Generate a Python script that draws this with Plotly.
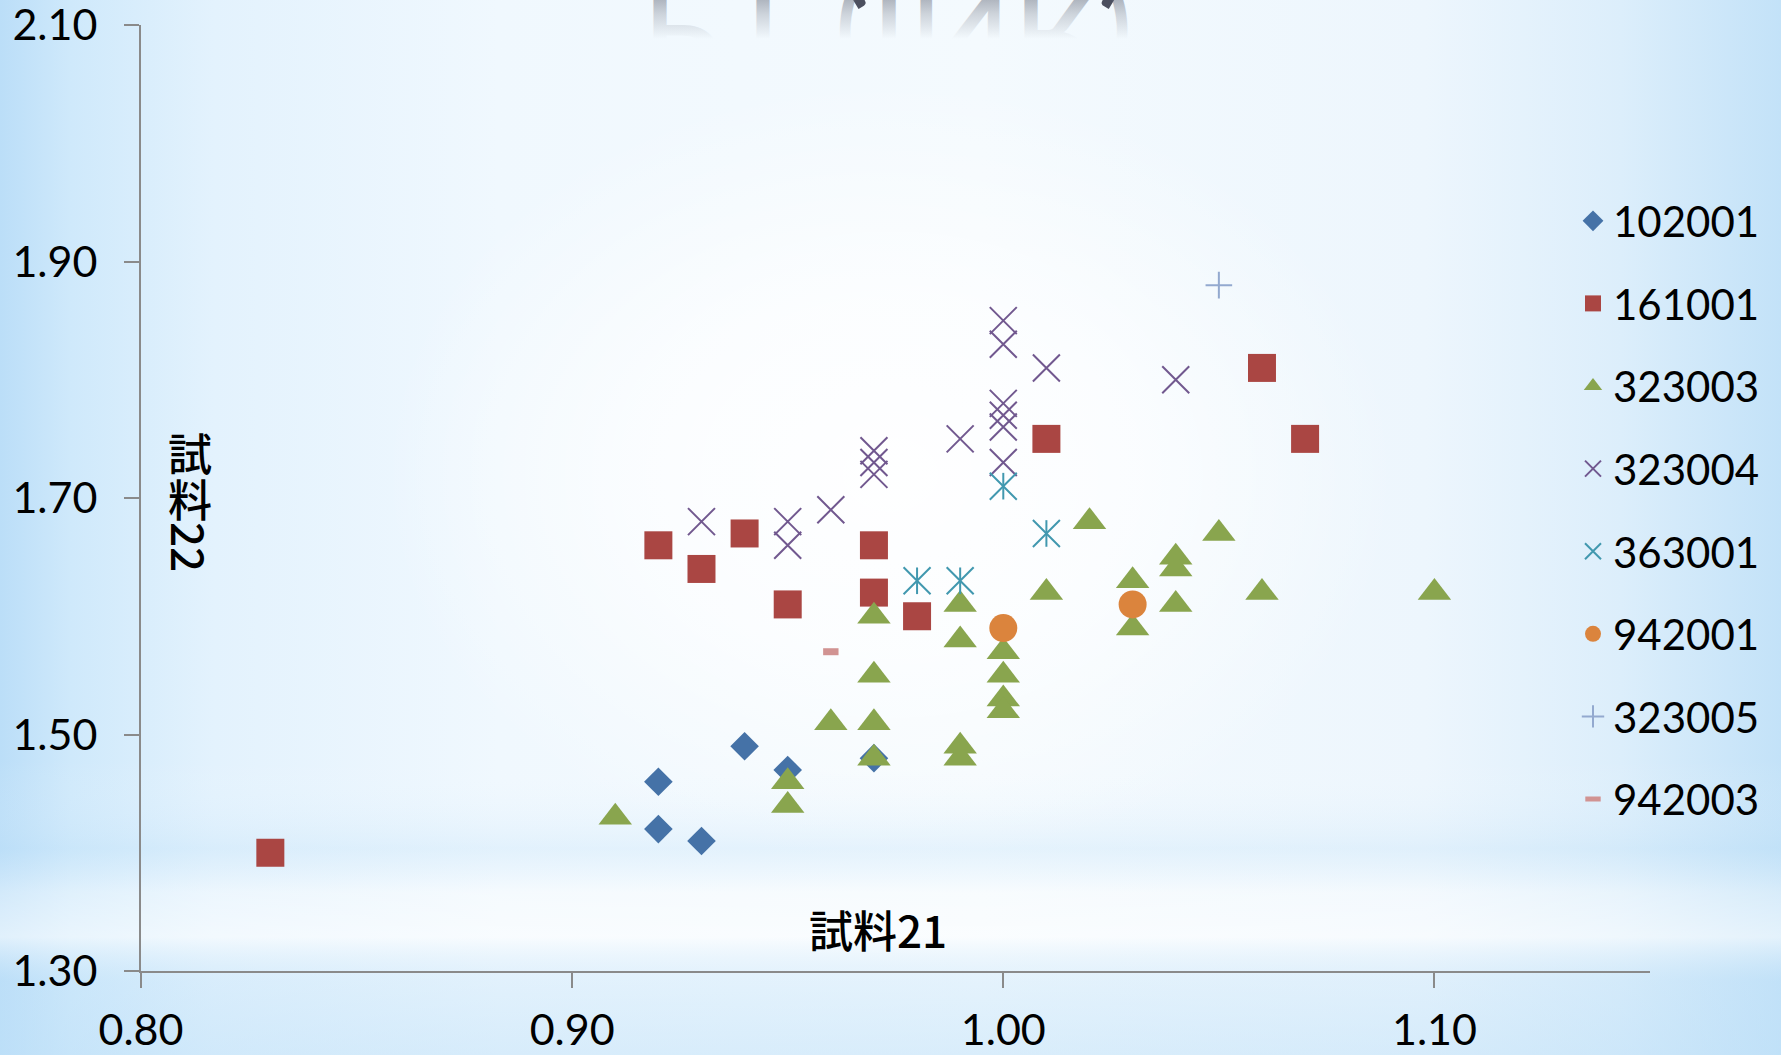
import plotly.graph_objects as go

# ---- data -------------------------------------------------------------
series_names = ["102001", "161001", "323003", "323004", "363001", "942001", "323005", "942003"]

s102001_x = [0.92, 0.92, 0.93, 0.94, 0.95, 0.97]
s102001_y = [1.46, 1.42, 1.41, 1.49, 1.47, 1.48]

s161001_x = [0.83, 0.92, 0.93, 0.94, 0.95, 0.97, 0.97, 0.98, 1.01, 1.06, 1.07]
s161001_y = [1.40, 1.66, 1.64, 1.67, 1.61, 1.66, 1.62, 1.60, 1.75, 1.81, 1.75]

s323003_x = [0.91, 0.95, 0.95, 0.96, 0.97, 0.97, 0.97, 0.97, 0.99, 0.99, 0.99, 0.99, 1.00,
             1.00, 1.00, 1.00, 1.01, 1.02, 1.03, 1.03, 1.04, 1.04, 1.04, 1.05, 1.06, 1.10]
s323003_y = [1.43, 1.46, 1.44, 1.51, 1.60, 1.55, 1.51, 1.48, 1.61, 1.58, 1.49, 1.48, 1.57,
             1.55, 1.53, 1.52, 1.62, 1.68, 1.63, 1.59, 1.65, 1.64, 1.61, 1.67, 1.62, 1.62]

s323004_x = [0.93, 0.95, 0.95, 0.96, 0.97, 0.97, 0.97, 0.99, 1.00, 1.00, 1.00, 1.00, 1.00, 1.00, 1.01, 1.04]
s323004_y = [1.68, 1.68, 1.66, 1.69, 1.74, 1.73, 1.72, 1.75, 1.85, 1.83, 1.78, 1.77, 1.76, 1.73, 1.81, 1.80]

s363001_x = [0.98, 0.99, 1.00, 1.01]
s363001_y = [1.63, 1.63, 1.71, 1.67]

s942001_x = [1.00, 1.03]
s942001_y = [1.59, 1.61]

s323005_x = [1.05]
s323005_y = [1.88]

s942003_x = [0.96]
s942003_y = [1.57]

x_tickvals = [0.80, 0.90, 1.00, 1.10]
x_ticktext = ["0.80", "0.90", "1.00", "1.10"]
y_tickvals = [1.30, 1.50, 1.70, 1.90, 2.10]
y_ticktext = ["1.30", "1.50", "1.70", "1.90", "2.10"]

x_title = "試料21"
y_title_cjk = ["試", "料"]
y_title_num = "22"
chart_title = "PT (INR)"

# ---- page geometry (pixels) -------------------------------------------
W, H = 1781, 1055
PLOT_L, PLOT_R, PLOT_T, PLOT_B = 141, 1650, 25, 971


def px_x(p):
    return p / W


def px_y(p):
    return (H - p) / H


LATIN = "Lato, 'Open Sans', sans-serif"
CJK = "'Noto Sans CJK JP', 'Noto Sans CJK SC', sans-serif"
AXIS_GREY = "#8A8A8A"

fig = go.Figure()

# ---- background washes on a full-page helper axis ---------------------
rect_x = [0, 1, 1, 0, 0]
rect_y = [0, 0, 1, 1, 0]


def wash(xs, ys, grad):
    fig.add_trace(go.Scatter(
        x=xs, y=ys, mode="lines", fill="toself", line=dict(width=0),
        fillgradient=grad, hoverinfo="skip", showlegend=False,
        xaxis="x", yaxis="y"))


wash(rect_x, rect_y, dict(type="horizontal", colorscale=[
    [0.00, "#BBDEF8"], [0.04, "#CFE9FB"], [0.12, "#E3F2FD"], [0.28, "#F0F8FE"],
    [0.55, "#F4FAFE"], [0.80, "#EDF6FD"], [0.91, "#DCEEFB"], [1.00, "#C3E2F8"]]))

# soft white glow in the middle of the page
wash([0.12, 0.88, 0.88, 0.12, 0.12], [0.05, 0.05, 1.05, 1.05, 0.05], dict(type="radial", colorscale=[
    [0.0, "rgba(255,255,255,0.95)"], [0.35, "rgba(255,255,255,0.7)"],
    [0.6, "rgba(255,255,255,0.25)"], [0.75, "rgba(255,255,255,0)"], [1.0, "rgba(255,255,255,0)"]]))

# horizontal light band near the foot of the page
wash(rect_x, [0, 0, 0.28, 0.28, 0], dict(type="vertical", colorscale=[
    [0.00, "rgba(190,224,248,0.5)"], [0.25, "rgba(190,224,248,0.3)"],
    [0.40, "rgba(255,255,255,0.55)"], [0.55, "rgba(255,255,255,0.35)"],
    [0.70, "rgba(190,224,248,0.28)"], [0.85, "rgba(220,238,252,0.12)"],
    [1.00, "rgba(255,255,255,0)"]]))

# ---- data series ------------------------------------------------------
def series(name, xs, ys, symbol, color, size, lw=0, show=True):
    line = dict(width=lw, color=color) if lw else dict(width=0)
    fig.add_trace(go.Scatter(
        x=xs, y=ys, mode="markers", name=name, legendgroup=name, showlegend=show,
        marker=dict(symbol=symbol, color=color, size=size, line=line),
        xaxis="x2", yaxis="y2"))


series("102001", s102001_x, s102001_y, "diamond", "#4572A7", 22)
series("161001", s161001_x, s161001_y, "square", "#AA4643", 28)
series("323003", s323003_x, s323003_y, "triangle-up", "#89A54E", 29)
series("323004", s323004_x, s323004_y, "x-thin-open", "#71588F", 27, lw=2)
series("363001", s363001_x, s363001_y, "x-thin-open", "#4198AF", 27, lw=2)
series("363001", s363001_x, s363001_y, "line-ns-open", "#4198AF", 19, lw=2, show=False)
series("942001", s942001_x, s942001_y, "circle", "#DB843D", 28)
series("323005", s323005_x, s323005_y, "cross-thin-open", "#93A9CF", 19, lw=2)
series("942003", s942003_x, s942003_y, "line-ew-open", "#D19392", 11, lw=7)

# ---- text -------------------------------------------------------------
title_font = dict(family=CJK, size=44, color="#000000", weight=500)


def label(text, x, y, **kw):
    d = dict(text=text, x=px_x(x), y=px_y(y), xref="paper", yref="paper",
             xanchor="center", yanchor="middle", showarrow=False, font=title_font)
    d.update(kw)
    return d


annotations = [
    label(x_title, 878, 929),
    label(y_title_cjk[0], 190, 452),
    label(y_title_cjk[1], 190, 498),
    label(y_title_num, 190, 547, textangle=90),
    # title sitting above the top edge, only its foot shows
    label(chart_title, 887, 20, yanchor="bottom",
          font=dict(family=LATIN, size=136, color="#4B4F5F")),
    # mirrored copy of the title (flipped in the post script)
    label(chart_title, 887, 20, yanchor="bottom",
          font=dict(family=LATIN, size=136, color="#8F96A3")),
]

axis_common = dict(ticks="outside", ticklen=15, tickwidth=2, tickcolor=AXIS_GREY,
                   showline=True, linewidth=2, linecolor=AXIS_GREY, showgrid=False,
                   zeroline=False, automargin=False, ticklabeloverflow="allow",
                   tickfont=dict(family=LATIN, size=43, color="#000000"))

fig.update_layout(
    width=W, height=H,
    margin=dict(l=0, r=0, t=0, b=0, pad=0, autoexpand=False),
    paper_bgcolor="#EAF5FD",
    plot_bgcolor="rgba(0,0,0,0)",
    font=dict(family=LATIN, size=42, color="#000000"),
    xaxis=dict(domain=[0, 1], range=[0, 1], visible=False, fixedrange=True, automargin=False),
    yaxis=dict(domain=[0, 1], range=[0, 1], visible=False, fixedrange=True, automargin=False),
    xaxis2=dict(domain=[px_x(PLOT_L), px_x(PLOT_R)], range=[0.80, 1.15], anchor="y2",
                tickvals=x_tickvals, ticktext=x_ticktext, ticklabelstandoff=5, **axis_common),
    yaxis2=dict(domain=[px_y(PLOT_B), px_y(PLOT_T)], range=[1.30, 2.10], anchor="x2",
                tickvals=y_tickvals, ticktext=y_ticktext, ticklabelstandoff=18, **axis_common),
    legend=dict(x=px_x(1573), y=px_y(187), xanchor="left", yanchor="top",
                bgcolor="rgba(0,0,0,0)", borderwidth=0, tracegroupgap=25,
                font=dict(family=LATIN, size=42, color="#000000")),
    annotations=annotations,
    showlegend=True,
)

# flip the second title copy about its baseline and fade it out downwards
reflection_js = """
(function () {
  var gd = document.getElementById('{plot_id}');
  var grp = gd.querySelector('.annotation[data-index="5"]');
  if (!grp) { return; }
  var t = grp.querySelector('text');
  if (!t) { return; }
  var ns = 'http://www.w3.org/2000/svg';
  var defs = gd.querySelector('svg.main-svg defs');
  var y = parseFloat(t.getAttribute('y')) || 0;
  var lg = document.createElementNS(ns, 'linearGradient');
  lg.setAttribute('id', 'title-mirror-fade');
  lg.setAttribute('gradientUnits', 'userSpaceOnUse');
  lg.setAttribute('x1', '0'); lg.setAttribute('x2', '0');
  lg.setAttribute('y1', String(y)); lg.setAttribute('y2', String(y - 50));
  [[0, 0.6], [0.5, 0.25], [1, 0]].forEach(function (s) {
    var st = document.createElementNS(ns, 'stop');
    st.setAttribute('offset', String(s[0]));
    st.setAttribute('stop-color', '#5C6272');
    st.setAttribute('stop-opacity', String(s[1]));
    lg.appendChild(st);
  });
  defs.appendChild(lg);
  var prev = t.getAttribute('transform') || '';
  t.setAttribute('transform', 'translate(0,' + (2 * y) + ') scale(1,-1) ' + prev);
  t.style.fill = 'url(#title-mirror-fade)';
})();
"""

fig.write_html("out.html", post_script=reflection_js)
